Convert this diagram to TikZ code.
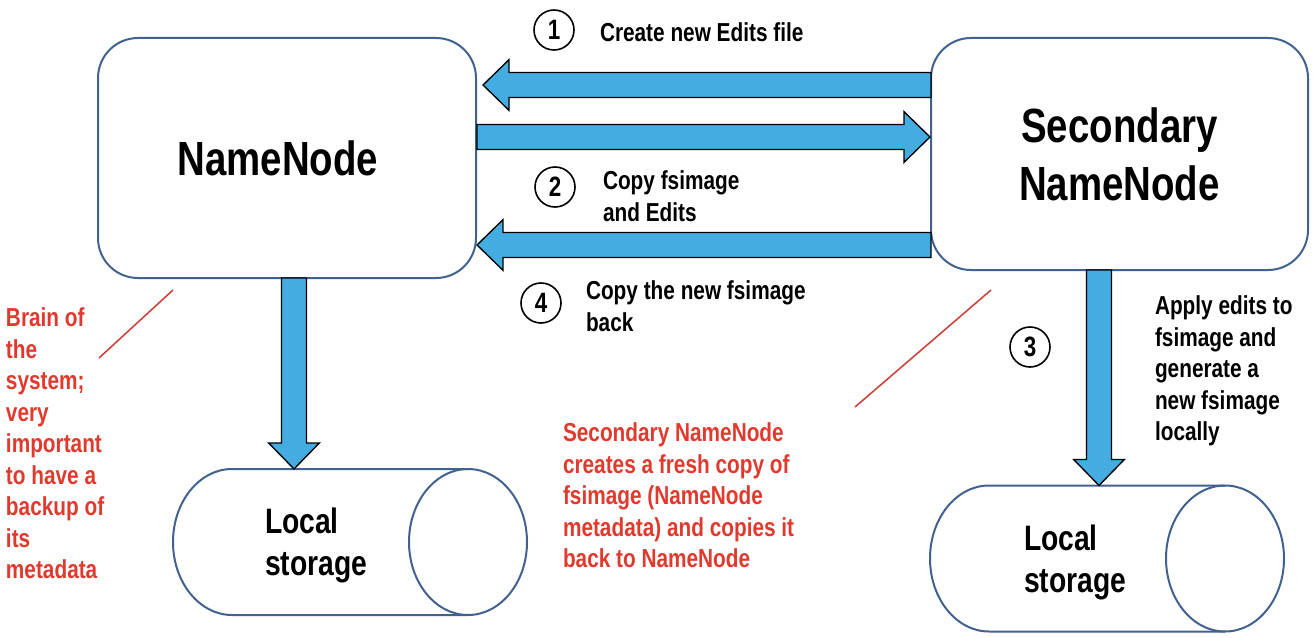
\documentclass[tikz,border=0pt]{standalone}
\usepackage{fontspec}
\setmainfont{Liberation Sans}[FakeStretch=0.8]
\usetikzlibrary{positioning,calc}

\definecolor{boxblue}{HTML}{41618F}
\definecolor{arrowblue}{HTML}{45ACE1}
\definecolor{notered}{HTML}{E0392E}
\definecolor{linered}{HTML}{C9463F}

% block arrow from #1 to #2 (tip at #2)
\newcommand\blkarrow[2]{%
  \draw[blk] let \p1=(#1), \p2=(#2),
    \n1={atan2(\y2-\y1,\x2-\x1)}, \n2={veclen(\x2-\x1,\y2-\y1)} in
    (\p1) ++(\n1+90:9.4pt) -- ++(\n1:\n2*1pt-19.5pt) -- ++(\n1+90:9.6pt) -- (\p2)
    -- ++(\n1+224.26:27.2pt) -- ++(\n1+90:9.6pt) -- ++(\n1+180:\n2*1pt-19.5pt) -- cycle;}
% lying cylinder round node #1
\newcommand\drumline[1]{%
  \draw[storline] ($(#1.north east)+(-59,0)$) -- ($(#1.north west)+(59,0)$)
    arc[start angle=90,end angle=270,x radius=44.25pt,y radius=54.75pt]
    -- ($(#1.south east)+(-59,0)$);
  \draw[storline] ($(#1.east)+(-59,0)$) ellipse[x radius=44.25pt,y radius=54.75pt];}

\begin{document}
\begin{tikzpicture}
[x=0.75pt,y=-0.75pt,
 every node/.style={inner sep=0pt,outer sep=0pt,font=\bfseries},
 proc/.style={draw=boxblue,line width=1.5pt,rounded corners=30pt,align=center,
   font=\bfseries\fontsize{36}{43.5}\selectfont},
 stor/.style={minimum width=265.5pt,minimum height=109.5pt},
 storline/.style={draw=boxblue,line width=1.5pt},
 stortxt/.style={anchor=north west,align=left,font=\bfseries\fontsize{26.5}{31.5}\selectfont},
 blk/.style={fill=arrowblue,draw=black,line width=1pt},
 num/.style={circle,draw=black,line width=1.2pt,minimum size=30pt,
   font=\bfseries\fontsize{21}{21}\selectfont},
 lbl/.style={anchor=north west,align=left,font=\bfseries\fontsize{19.5}{23.6}\selectfont},
 note/.style={lbl,text=notered},
 ptr/.style={draw=linered,line width=1.2pt}]
\useasboundingbox (0,0) rectangle (1316,638);

% the two name nodes
\node[proc,minimum width=283.5pt,minimum height=180pt] (nn)  at (287,158)    {NameNode\hspace*{13.5pt}};
\node[proc,minimum width=282.75pt,minimum height=174pt] (snn) at (1119.5,154) {Secondary\\NameNode};

% local storage
\node[stor] (ls1) at (350,542)    {};
\node[stor] (ls2) at (1107,558.5) {};
\drumline{ls1}
\drumline{ls2}
\node[stortxt] (lt1) at (265,508)  {Local\\storage};
\node[stortxt] (lt2) at (1024,525) {Local\\storage};

% arrow ends
\coordinate (a1s) at ($(snn.west)+(0,-69)$);
\coordinate (a1e) at ($(nn.east)+(7,-73)$);
\coordinate (a2s) at ($(nn.east)+(1,-21)$);
\coordinate (a2e) at ($(snn.west)+(-1,-17)$);
\coordinate (a3s) at ($(snn.west)+(0,91)$);
\coordinate (a3e) at ($(nn.east)+(1,87)$);
\coordinate (a4s) at ($(nn.south)+(7,0)$);
\coordinate (a4e) at ($(ls1.north)+(-56,0)$);
\coordinate (a5s) at ($(snn.south)+(-20.5,0)$);
\coordinate (a5e) at ($(ls2.north)+(-8,0)$);
\blkarrow{a1s}{a1e}
\blkarrow{a2s}{a2e}
\blkarrow{a3s}{a3e}
\blkarrow{a4s}{a4e}
\blkarrow{a5s}{a5e}

% steps
\node[num] (c1) at (554,30)   {1};
\node[num] (c2) at (555,187)  {2};
\node[num] (c3) at (1030,347) {3};
\node[num] (c4) at (541,303)  {4};
\node[lbl] (t1) at (600,23)  {Create new Edits file};
\node[lbl] (t2) at (603,171) {Copy fsimage\\and Edits};
\node[lbl] (t4) at (586,281) {Copy the new fsimage\\back};
\node[lbl] (t3) at (1155,296) {Apply edits to\\fsimage and\\generate a\\new fsimage\\locally};

% notes
\node[note] (n1) at (6,308) {Brain of\\the\\system;\\very\\important\\to have a\\backup of\\its\\metadata};
\node[note] (n2) at (563,423) {Secondary NameNode\\creates a fresh copy of\\fsimage (NameNode\\metadata) and copies it\\back to NameNode};
\coordinate (p1a) at (99,358);
\coordinate (p1b) at (173,290);
\coordinate (p2a) at (855,407);
\coordinate (p2b) at (991,290);
\draw[ptr] (p1a) -- (p1b);
\draw[ptr] (p2a) -- (p2b);
\end{tikzpicture}
\end{document}
